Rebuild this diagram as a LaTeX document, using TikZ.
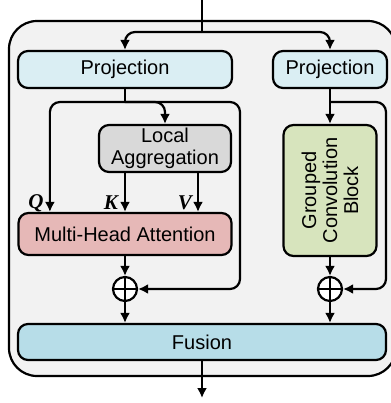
\documentclass[tikz,border=0pt]{standalone}
\usepackage{fontspec}
\setmainfont{Liberation Sans}
\newfontfamily\qkvfont{Liberation Serif}
\usetikzlibrary{arrows.meta}
\definecolor{outerfill}{HTML}{F2F2F2}
\definecolor{projfill}{HTML}{DAEEF3}
\definecolor{aggfill}{HTML}{D9D9D9}
\definecolor{mhafill}{HTML}{E6B8B7}
\definecolor{gcbfill}{HTML}{D7E4BD}
\definecolor{fusfill}{HTML}{B7DDE8}

\begin{document}
\begin{tikzpicture}[x=0.5pt,y=-0.5pt,line width=1.1pt,
  >={Latex[length=5pt,width=5pt]},
  box/.style={draw,rounded corners=5pt,align=center,inner sep=0pt,font=\fontsize{10}{11}\selectfont},
  sumnode/.style={draw,circle,fill=white,minimum size=12pt,inner sep=0pt},
  qkv/.style={font=\qkvfont\bfseries\itshape\fontsize{10.5}{11}\selectfont,inner sep=0pt}]
\useasboundingbox (0,0) rectangle (391,403);
\clip (0,0) rectangle (391,403);
\draw[fill=outerfill,rounded corners=14pt] (9,21) rectangle (396,376);
\node[box,fill=projfill,minimum width=107pt,minimum height=18.5pt] (projL) at (125,69.5) {Projection};
\node[box,fill=projfill,minimum width=57pt,minimum height=18.5pt] (projR) at (330,69.5) {Projection};
\node[box,fill=aggfill,minimum width=66pt,minimum height=23.5pt] (agg) at (165,148.5) {Local\\Aggregation};
\node[box,fill=mhafill,minimum width=106.5pt,minimum height=21pt] (mha) at (125,234) {Multi-Head Attention};
\node[box,fill=gcbfill,minimum width=46.5pt,minimum height=65.5pt] (gcb) at (330,190.5) {};
\node[rotate=90,align=center,inner sep=0pt,font=\fontsize{10}{10.5}\selectfont] (gcbtext) at (gcb.center) {Grouped\\Convolution\\Block};
\node[box,fill=fusfill,minimum width=184pt,minimum height=18pt] (fusion) at (202,342) {Fusion};
\node[sumnode] (sumL) at (125,289) {};
\node[sumnode] (sumR) at (330,289) {};
\draw (sumL.north) -- (sumL.south) (sumL.west) -- (sumL.east);
\draw (sumR.north) -- (sumR.south) (sumR.west) -- (sumR.east);
\node[qkv] (qlab) at (36,203) {Q};
\node[qkv] (klab) at (111,203) {K};
\node[qkv] (vlab) at (185,203) {V};
\coordinate (in) at (202,0);
\coordinate (split) at (202,32);
\coordinate (tapL) at (125,102);
\coordinate (tapR) at (330,102);
\coordinate (skipL) at (240,102);
\coordinate (skipR) at (386,102);
\coordinate (qin) at ([xshift=16.25pt]mha.north west);
\coordinate (vin) at ([xshift=36.5pt]mha.north);
\coordinate (out) at (202,398);
\draw (in) -- (split);
\draw[->,rounded corners=5pt] (split) -| (projL.north);
\draw[->,rounded corners=5pt] (split) -| (projR.north);
\draw (projL.south) -- (tapL);
\draw[->,rounded corners=5pt] (tapL) -| (agg.north);
\draw[->,rounded corners=5pt] (tapL) -| (qin);
\draw[->,rounded corners=5pt] (tapL) -- (skipL) |- (sumL.east);
\draw[->] (agg.south -| mha.north) -- (mha.north);
\draw[->] (agg.south -| vin) -- (vin);
\draw[->] (mha.south) -- (sumL.north);
\draw[->] (sumL.south) -- (fusion.north -| sumL);
\draw[->] (projR.south) -- (gcb.north);
\draw[->,rounded corners=5pt] (tapR) -- (skipR) |- (sumR.east);
\draw[->] (gcb.south) -- (sumR.north);
\draw[->] (sumR.south) -- (fusion.north -| sumR);
\draw[->] (fusion.south) -- (out);
\end{tikzpicture}
\end{document}
